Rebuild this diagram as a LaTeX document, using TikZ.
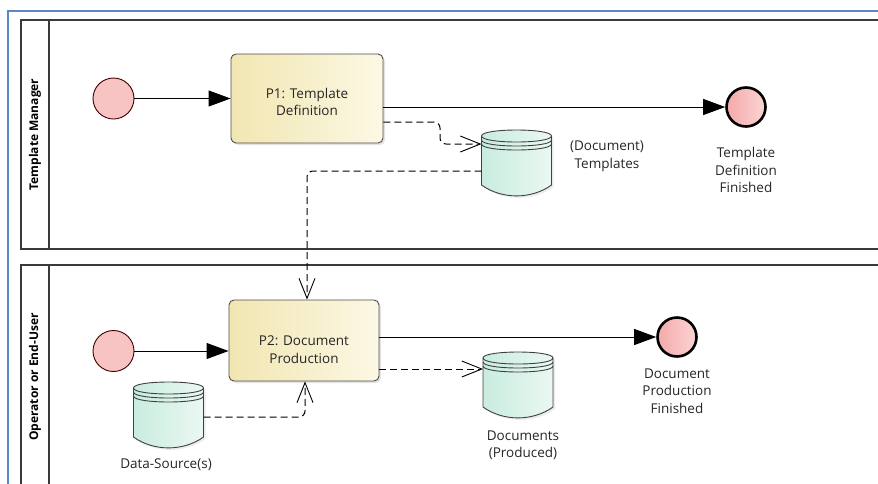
\documentclass[tikz,border=0pt]{standalone}
\usepackage{fontspec}
\setmainfont{Open Sans}
\usetikzlibrary{arrows.meta,shadows,calc}

\definecolor{frameblue}{HTML}{5B87C8}
\definecolor{laneline}{HTML}{3A3A3A}
\definecolor{taskL}{HTML}{F1E6B2}
\definecolor{taskR}{HTML}{FCF8E4}
\definecolor{startfill}{HTML}{F7C3C3}
\definecolor{endL}{HTML}{F4A9A9}
\definecolor{endR}{HTML}{FBD4D4}
\definecolor{storeL}{HTML}{C9ECDF}
\definecolor{storeR}{HTML}{EAF8F2}
\definecolor{inkgray}{HTML}{262626}

% data store: cylinder with two rings under the lid and a bulging base
\newcommand\drawstore[1]{%
  \begin{scope}[shift={(#1.center)}, draw=black!75, line width=0.9pt]
    \path[draw, left color=storeL, right color=storeR,
          drop shadow={opacity=0.15, shadow xshift=2pt, shadow yshift=-2pt}]
      (-35,-27) -- (-35,22) .. controls (-15,36.5) and (15,36.5) .. (35,22)
      -- (35,-27) .. controls (35,-35) and (-35,-35) .. (-35,-27) -- cycle;
    \draw (-35,-27) .. controls (-35,-19) and (35,-19) .. (35,-27);
    \draw (-35,-23) .. controls (-35,-15) and (35,-15) .. (35,-23);
    \draw (-35,-19) .. controls (-35,-11) and (35,-11) .. (35,-19);
  \end{scope}}

\begin{document}
\begin{tikzpicture}[x=1pt, y=-1pt,
  every node/.style={font=\fontsize{13.5}{17.5}\selectfont, text=inkgray},
  lanebox/.style={draw=laneline, line width=1.3pt},
  lanetitle/.style={rotate=90, font=\bfseries\fontsize{12}{14}\selectfont, text=black},
  task/.style={draw=black!70, line width=0.9pt, rounded corners=5pt,
    left color=taskL, right color=taskR,
    drop shadow={opacity=0.22, shadow xshift=2pt, shadow yshift=-2pt}},
  tasktext/.style={align=center},
  startevt/.style={circle, draw=black!75!red, line width=0.9pt, fill=startfill,
    minimum size=41pt, inner sep=0pt},
  endevt/.style={circle, draw=black, line width=2.6pt, left color=endL, right color=endR,
    minimum size=39pt, inner sep=0pt},
  storebox/.style={minimum width=70pt, minimum height=66pt, inner sep=0pt, outer sep=0pt},
  caption/.style={align=center},
  flow/.style={draw=black, line width=0.9pt, -{Triangle[length=22pt, width=16pt]}},
  assoc/.style={draw=black, line width=1pt, dash pattern=on 7pt off 4pt,
    rounded corners=6pt, -{Straight Barb[length=20pt, width=16pt, line width=0.9pt]}},
]
\useasboundingbox (0,0) rectangle (878,483);
\clip (0,0) rectangle (878,483);

% outer frame
\draw[frameblue, line width=2pt] (8,11) rectangle (900,500);

% swimlanes
\draw[lanebox] (21,20) rectangle (900,249);
\draw[lanebox] (49,20) -- (49,249);
\node[lanetitle] (lane1) at (35,134.5) {Template Manager};

\draw[lanebox] (21,265) rectangle (900,520);
\draw[lanebox] (49,265) -- (49,520);
\node[lanetitle] (lane2) at (35,377) {Operator or End-User};

% lane 1
\node[startevt] (start1) at (113.5,98.5) {};
\node[task, minimum width=152pt, minimum height=89pt] (P1) at (307,98.5) {};
\node[tasktext] (P1t) at (307,102) {P1: Template\\Definition};
\node[endevt] (end1) at (746,107) {};
\node[caption] (end1t) at (746,170) {Template\\Definition\\Finished};
\node[storebox] (tpl) at (516.5,163) {};
\drawstore{tpl}
\node[caption] (tplt) at (607,156.5) {(Document)\\Templates};

% lane 2
\node[startevt] (start2) at (113.5,351) {};
\node[task, minimum width=150pt, minimum height=81pt] (P2) at (304,340.5) {};
\node[tasktext] (P2t) at (304,349.5) {P2: Document\\Production};
\node[endevt] (end2) at (677,337) {};
\node[caption] (end2t) at (677,391) {Document\\Production\\Finished};
\node[storebox] (docs) at (518,385) {};
\drawstore{docs}
\node[caption] (docst) at (523,445) {Documents\\(Produced)};
\node[storebox] (ds) at (168.5,415) {};
\drawstore{ds}
\node[caption] (dst) at (166,465) {Data-Source(s)};

% sequence flows
\draw[flow] (start1.east) -- (P1.west |- start1);
\draw[flow] (P1.east |- end1) -- (end1.west);
\draw[flow] (start2.east) -- (P2.west |- start2);
\draw[flow] (P2.east |- end2) -- (end2.west);

% data associations
\coordinate (p1out) at ([yshift=-23.5pt]P1.east);
\coordinate (tplin) at ([yshift=19pt]tpl.west);
\draw[assoc] (p1out) -- (440,122) |- (tplin);
\draw[assoc] ([yshift=-8pt]tpl.west) -| ([xshift=3pt]P2.north);
\coordinate (p2out) at ([yshift=-28.5pt]P2.east);
\draw[assoc] (p2out) -- (p2out -| docs.west);
\draw[assoc] ([yshift=-2pt]ds.east) -| ([xshift=1pt]P2.south);
\end{tikzpicture}
\end{document}
